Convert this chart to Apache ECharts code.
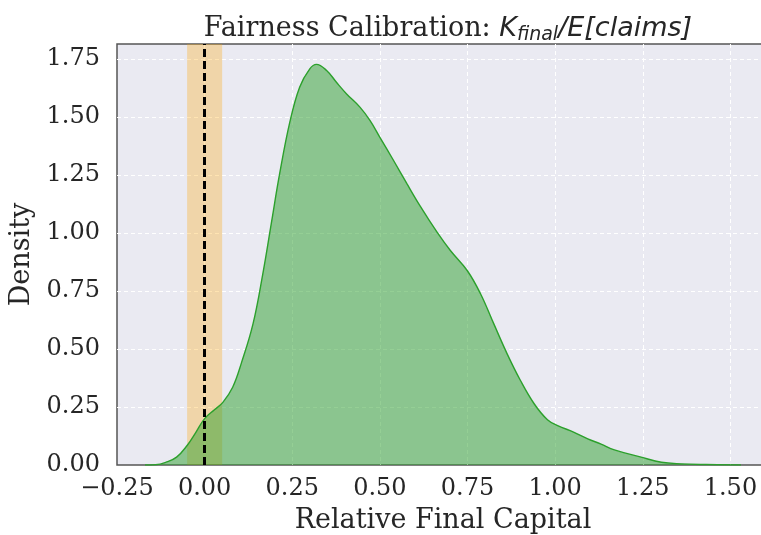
<!DOCTYPE html>
<html>
<head>
<meta charset="utf-8">
<script src="https://cdn.jsdelivr.net/npm/echarts@6/dist/echarts.min.js"></script>
<style>
html, body { margin: 0; padding: 0; background: #fff; }
#main { width: 761px; height: 535px; }
</style>
</head>
<body>
<div id="main"></div>
<script>
// KDE of relative final capital
var capX = [-0.17, -0.14, -0.11, -0.08, -0.05, -0.025, 0.0, 0.028, 0.052, 0.08, 0.105, 0.138, 0.166, 0.19, 0.214,
	0.243, 0.271, 0.30, 0.319, 0.348, 0.376, 0.405, 0.443, 0.472, 0.50, 0.539, 0.577, 0.615, 0.663, 0.701, 0.749,
	0.787, 0.825, 0.863, 0.901, 0.94, 0.978, 1.007, 1.054, 1.093, 1.131, 1.169, 1.245, 1.303, 1.36, 1.43, 1.53];
var density = [0.0, 0.001, 0.012, 0.034, 0.084, 0.141, 0.200, 0.238, 0.270, 0.335, 0.440, 0.608, 0.824, 1.039, 1.255,
	1.477, 1.628, 1.707, 1.726, 1.700, 1.649, 1.599, 1.542, 1.484, 1.412, 1.312, 1.212, 1.115, 1.003, 0.924, 0.838,
	0.738, 0.608, 0.479, 0.364, 0.264, 0.195, 0.170, 0.141, 0.113, 0.090, 0.065, 0.034, 0.012, 0.005, 0.002, 0.0];
var fairBand = [-0.05, 0.05];
var fairLine = 0;

var kde = [];
for (let i = 0; i < capX.length; i++) kde.push([capX[i], density[i]]);

function tickFmt(v) {
	var k = v / 0.25;
	if (Math.abs(k - Math.round(k)) > 1e-6) return '';
	return v.toFixed(2).replace('-', '\u2212');
}

var serif = 'DejaVu Serif';
var txt = '#262626';

echarts.init(document.getElementById('main')).setOption({
	animation: false,
	title: {
		text: '{n|Fairness Calibration: }{m|K}{s|final}{m|/E[claims]}',
		left: 443,
		top: 7,
		textAlign: 'center',
		textStyle: {
			fontWeight: 'normal',
			rich: {
				n: {fontFamily: serif, fontSize: 27, fontWeight: 'normal', color: txt, lineHeight: 33},
				m: {fontFamily: 'DejaVu Sans', fontStyle: 'italic', fontWeight: 'normal', fontSize: 27, color: txt, lineHeight: 33},
				s: {fontFamily: 'DejaVu Sans', fontStyle: 'italic', fontWeight: 'normal', fontSize: 19, color: txt, lineHeight: 19, verticalAlign: 'bottom'}
			}
		}
	},
	grid: {
		left: 117, right: -8, top: 44, bottom: 70,
		outerBoundsMode: 'none',
		show: true, backgroundColor: '#eaeaf2', borderColor: '#555555', borderWidth: 1.5
	},
	xAxis: {
		type: 'value', min: -0.25, max: 1.61, interval: 0.25,
		name: 'Relative Final Capital', nameLocation: 'middle', nameGap: 42,
		nameTextStyle: {fontFamily: serif, fontSize: 27, color: txt},
		axisLine: {show: false}, axisTick: {show: false},
		axisLabel: {formatter: tickFmt, fontFamily: serif, fontSize: 24, color: txt, margin: 12},
		splitLine: {show: true, showMinLine: false, showMaxLine: false, lineStyle: {color: '#ffffff', type: [4, 3], width: 1}}
	},
	yAxis: {
		type: 'value', min: 0, max: 1.814, interval: 0.25,
		name: 'Density', nameLocation: 'middle', nameGap: 78,
		nameTextStyle: {fontFamily: serif, fontSize: 27, color: txt},
		axisLine: {show: false}, axisTick: {show: false},
		axisLabel: {formatter: tickFmt, fontFamily: serif, fontSize: 24, color: txt, margin: 17},
		splitLine: {show: true, showMinLine: false, showMaxLine: false, lineStyle: {color: '#ffffff', type: [4, 3], width: 1}}
	},
	series: [{
		type: 'line',
		data: kde,
		smooth: 0.4,
		showSymbol: false,
		z: 2,
		lineStyle: {color: '#2ca02c', width: 1.4},
		areaStyle: {color: '#2ca02c', opacity: 0.5}
	}, {
		type: 'line',
		data: [],
		z: 3,
		markArea: {
			silent: true,
			itemStyle: {color: 'rgba(255,165,0,0.3)'},
			data: [[{xAxis: fairBand[0]}, {xAxis: fairBand[1]}]]
		}
	}, {
		type: 'line',
		data: [],
		z: 4,
		markLine: {
			silent: true,
			symbol: 'none',
			label: {show: false},
			lineStyle: {color: '#000000', type: [8, 4], width: 3},
			data: [{xAxis: fairLine}]
		}
	}]
});
</script>
</body>
</html>
